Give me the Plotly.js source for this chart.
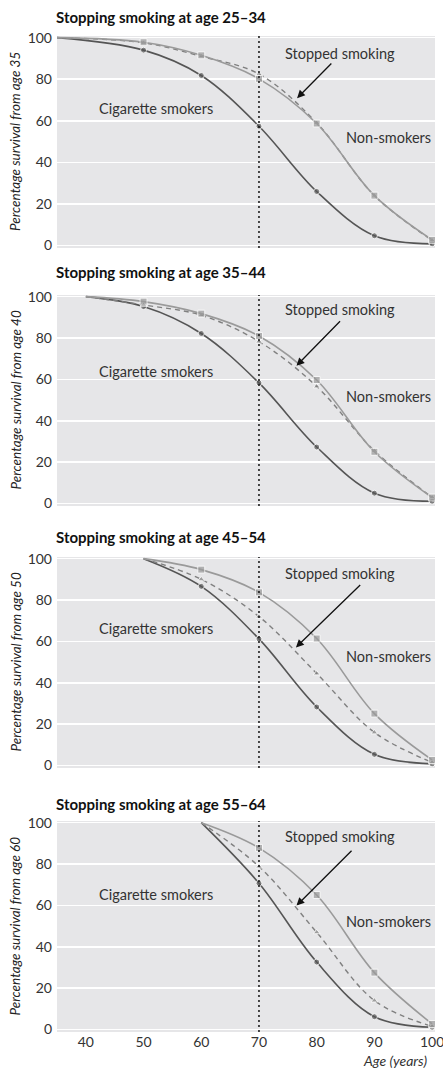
<!DOCTYPE html>
<html><head><meta charset="utf-8">
<script src="https://cdn.plot.ly/plotly-3.0.1.min.js"></script>
<style>html,body{margin:0;padding:0;background:#fff}</style>
</head><body><div id="chart" style="width:443px;height:1069px"></div>
<script>
// Panel titles and ages
const panelTitles = ["Stopping smoking at age 25–34","Stopping smoking at age 35–44","Stopping smoking at age 45–54","Stopping smoking at age 55–64"];
const yTitles = ["Percentage survival from age 35","Percentage survival from age 40","Percentage survival from age 50","Percentage survival from age 60"];
const xTickVals = [40,50,60,70,80,90,100];
const yTickVals = [0,20,40,60,80,100];

const ages1 = [35,50,60,70,80,90,100];
const smokers1 = [100,94,81.8,57.4,26,4.7,0.8];
const nonsmokers1 = [100,97.8,91.5,80.2,58.7,24,2.7];
const stopped1 = [100,97.5,91,82.5,59,24,2.5];

const ages2 = [40,50,60,70,80,90,100];
const smokers2 = [100,95.2,82.2,58.3,27.3,5,1.1];
const nonsmokers2 = [100,97.6,91.8,81,59.7,25,2.9];
const stopped2 = [100,96,91,78.3,56.6,25.5,3];

const ages3 = [50,60,70,80,90,100];
const smokers3 = [100,86.6,61.2,28.3,5.4,0.8];
const nonsmokers3 = [100,94.7,83.7,61.4,25.1,2.7];
const stopped3 = [100,90,72,44.5,16,1.5];

const ages4 = [60,70,80,90,100];
const smokers4 = [100,70.7,32.6,6.2,1.1];
const nonsmokers4 = [100,87.8,65,27.5,2.7];
const stopped4 = [100,78.8,47,14,1.5];

const panels = [
  {ages: ages1, s: smokers1, n: nonsmokers1, q: stopped1},
  {ages: ages2, s: smokers2, n: nonsmokers2, q: stopped2},
  {ages: ages3, s: smokers3, n: nonsmokers3, q: stopped3},
  {ages: ages4, s: smokers4, n: nonsmokers4, q: stopped4}
];

// layout geometry (pixel rows of each plot area)
const H = 1069;
const pxRows = [[36,248],[295,506],[557,768],[821,1032]];
const titleY = [17,272,537,804];
const labelPos = [
  {stop:[84,92.5], cig:[52.1,66], non:[92.4,51.8], tail:[82.8,88.3], head:[76.6,70.9]},
  {stop:[84,93.6], cig:[52.1,63.9], non:[92.4,51.5], tail:[84.3,88.8], head:[76.5,66.6]},
  {stop:[84,92.8], cig:[52.1,66.4], non:[92.4,52.8], tail:[87.8,88], head:[76.4,57.1]},
  {stop:[84,93.1], cig:[52.1,65.1], non:[92.4,52.3], tail:[86.3,87.1], head:[76.5,59.9]}
];

const FONT = "Lato, 'Open Sans', sans-serif";
const data = [];
const layout = {
  width: 443, height: 1069,
  margin: {l:57, r:8, t:0, b:0},
  paper_bgcolor: '#ffffff',
  plot_bgcolor: '#e6e6e8',
  showlegend: false,
  font: {family: FONT, color: '#333', size: 13},
  annotations: [], shapes: []
};

panels.forEach((p, i) => {
  const k = i === 0 ? '' : String(i + 1);
  const xa = 'x' + k, ya = 'y' + k;
  const msize = (base) => p.ages.map((a, j) => j === 0 ? 0 : base);
  data.push({x: p.ages, y: p.s, xaxis: xa, yaxis: ya, type: 'scatter', mode: 'lines+markers',
    line: {color: '#555555', width: 1.6, shape: 'spline', smoothing: 1},
    marker: {symbol: 'circle', size: msize(6), color: '#555555'}});
  data.push({x: p.ages, y: p.q, xaxis: xa, yaxis: ya, type: 'scatter', mode: 'lines+markers',
    line: {color: '#808080', width: 1.4, dash: '5px,4px', shape: 'spline', smoothing: 1},
    marker: {symbol: 'triangle-up', size: msize(6), color: '#808080'}});
  data.push({x: p.ages, y: p.n, xaxis: xa, yaxis: ya, type: 'scatter', mode: 'lines+markers',
    line: {color: '#9a9a9a', width: 1.6, shape: 'spline', smoothing: 1},
    marker: {symbol: 'square', size: msize(7), color: '#9a9a9a'}});

  const r = pxRows[i];
  const dom = [1 - r[1] / H, 1 - r[0] / H];
  layout['xaxis' + k] = {
    domain: [0, 1], anchor: ya, range: [35, 100.5],
    tickvals: xTickVals, showticklabels: i === 3, ticks: '',
    showgrid: false, zeroline: false, showline: false,
    ticklabeloverflow: 'allow',
    tickfont: {size: 14, color: '#333'}
  };
  layout['yaxis' + k] = {
    domain: dom, anchor: xa, range: [-1.2, 100.8],
    tickvals: yTickVals, ticks: '', showline: false, zeroline: false,
    showgrid: true, gridcolor: '#ffffff', gridwidth: 1.5,
    tickfont: {size: 14, color: '#333'}, ticklabelstandoff: 4
  };
  // dotted vertical line at age 70
  layout.shapes.push({type: 'line', xref: xa, yref: ya + ' domain', x0: 70, x1: 70, y0: 0, y1: 1,
    line: {color: '#111', width: 1.5, dash: '2px,3px'}});
  // panel title
  layout.annotations.push({xref: 'paper', yref: 'paper', x: -0.008, y: 1 - titleY[i] / H,
    xanchor: 'left', yanchor: 'middle', showarrow: false, text: '<b>' + panelTitles[i] + '</b>',
    font: {size: 15, color: '#111', family: FONT}});
  // y title
  layout.annotations.push({xref: 'paper', yref: 'paper', x: (15 - 57) / 378, y: (dom[0] + dom[1]) / 2,
    xanchor: 'center', yanchor: 'middle', showarrow: false, textangle: -90,
    text: '<i>' + yTitles[i] + '</i>', font: {size: 13.5, color: '#222', family: FONT}});
  const L = labelPos[i];
  layout.annotations.push({xref: xa, yref: ya, x: L.stop[0], y: L.stop[1], showarrow: false,
    text: 'Stopped smoking', font: {size: 14.5, color: '#333'}});
  layout.annotations.push({xref: xa, yref: ya, x: L.cig[0], y: L.cig[1], showarrow: false,
    text: 'Cigarette smokers', font: {size: 14.5, color: '#333'}});
  layout.annotations.push({xref: xa, yref: ya, x: L.non[0], y: L.non[1], showarrow: false,
    text: 'Non-smokers', font: {size: 14.5, color: '#333'}});
  layout.annotations.push({xref: xa, yref: ya, axref: xa, ayref: ya,
    x: L.head[0], y: L.head[1], ax: L.tail[0], ay: L.tail[1], text: '',
    showarrow: true, arrowhead: 2, arrowsize: 1.2, arrowwidth: 1.3, arrowcolor: '#111'});
});

layout.annotations.push({xref: 'paper', yref: 'paper', x: 0.985, y: 1 - 1060 / H,
  xanchor: 'right', yanchor: 'middle', showarrow: false, text: '<i>Age (years)</i>',
  font: {size: 14, color: '#333', family: FONT}});

Plotly.newPlot('chart', data, layout, {staticPlot: true, displayModeBar: false});
</script>
</body></html>
